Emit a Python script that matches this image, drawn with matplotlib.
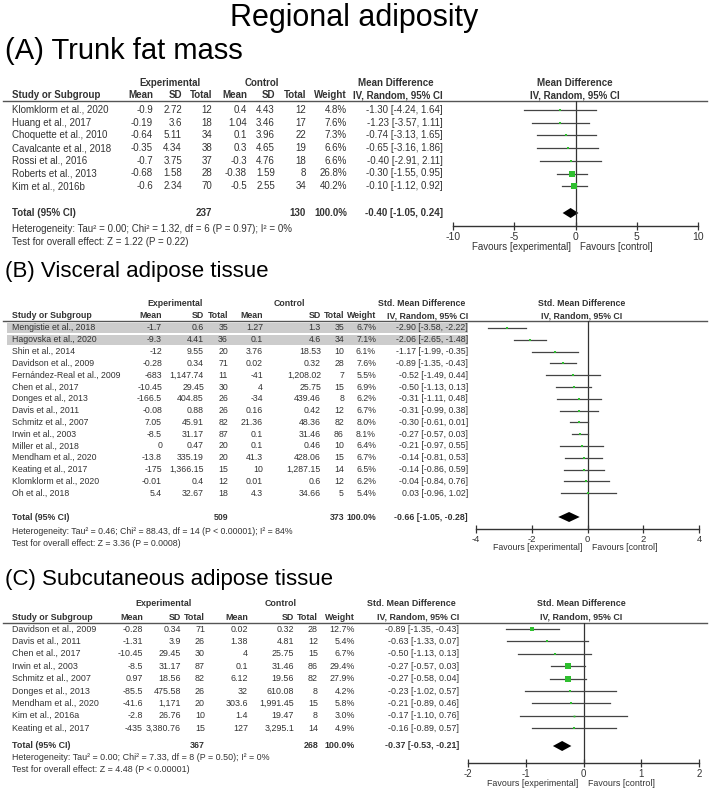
import matplotlib.pyplot as plt
from matplotlib.patches import Rectangle
import numpy as np

plt.rcParams['font.family'] = ['Liberation Sans', 'DejaVu Sans']
plt.rcParams['axes.unicode_minus'] = False

W, H = 709, 790
TXT = '#333333'
GREEN = '#2fbf2f'

## (A) Trunk fat mass ##
studiesA = ["Klomklorm et al., 2020", "Huang et al., 2017", "Choquette et al., 2010",
            "Cavalcante et al., 2018", "Rossi et al., 2016", "Roberts et al., 2013",
            "Kim et al., 2016b"]
expMeanA = [-0.9, -0.19, -0.64, -0.35, -0.7, -0.68, -0.6]
expSDA = [2.72, 3.6, 5.11, 4.34, 3.75, 1.58, 2.34]
expNA = [12, 18, 34, 38, 37, 28, 70]
ctlMeanA = [0.4, 1.04, 0.1, 0.3, -0.3, -0.38, -0.5]
ctlSDA = [4.43, 3.46, 3.96, 4.65, 4.76, 1.59, 2.55]
ctlNA = [12, 17, 22, 19, 18, 8, 34]
weightA = [4.8, 7.6, 7.3, 6.6, 6.6, 26.8, 40.2]
estA = [-1.30, -1.23, -0.74, -0.65, -0.40, -0.30, -0.10]
loA = [-4.24, -3.57, -3.13, -3.16, -2.91, -1.55, -1.12]
hiA = [1.64, 1.11, 1.65, 1.86, 2.11, 0.95, 0.92]
totalNA = [237, 130]
pooledA = [-0.40, -1.05, 0.24]
hetA = "Heterogeneity: Tau\u00b2 = 0.00; Chi\u00b2 = 1.32, df = 6 (P = 0.97); I\u00b2 = 0%"
testA = "Test for overall effect: Z = 1.22 (P = 0.22)"
ticksA = [-10, -5, 0, 5, 10]

## (B) Visceral adipose tissue ##
studiesB = ["Mengistie et al., 2018", "Hagovska et al., 2020", "Shin et al., 2014",
            "Davidson et al., 2009", "Fernández-Real et al., 2009", "Chen et al., 2017",
            "Donges et al., 2013", "Davis et al., 2011", "Schmitz et al., 2007",
            "Irwin et al., 2003", "Miller et al., 2018", "Mendham et al., 2020",
            "Keating et al., 2017", "Klomklorm et al., 2020", "Oh et al., 2018"]
expMeanB = [-1.7, -9.3, -12, -0.28, -683, -10.45, -166.5, -0.08, 7.05, -8.5, 0, -13.8, -175, -0.01, 5.4]
expSDB = [0.6, 4.41, 9.55, 0.34, 1147.74, 29.45, 404.85, 0.88, 45.91, 31.17, 0.47, 335.19, 1366.15, 0.4, 32.67]
expNB = [35, 36, 20, 71, 11, 30, 26, 26, 82, 87, 20, 20, 15, 12, 18]
ctlMeanB = [1.27, 0.1, 3.76, 0.02, -41, 4, -34, 0.16, 21.36, 0.1, 0.1, 41.3, 10, 0.01, 4.3]
ctlSDB = [1.3, 4.6, 18.53, 0.32, 1208.02, 25.75, 439.46, 0.42, 48.36, 31.46, 0.46, 428.06, 1287.15, 0.6, 34.66]
ctlNB = [35, 34, 10, 28, 7, 15, 8, 12, 82, 86, 10, 15, 14, 12, 5]
weightB = [6.7, 7.1, 6.1, 7.6, 5.5, 6.9, 6.2, 6.7, 8.0, 8.1, 6.4, 6.7, 6.5, 6.2, 5.4]
estB = [-2.90, -2.06, -1.17, -0.89, -0.52, -0.50, -0.31, -0.31, -0.30, -0.27, -0.21, -0.14, -0.14, -0.04, 0.03]
loB = [-3.58, -2.65, -1.99, -1.35, -1.49, -1.13, -1.11, -0.99, -0.61, -0.57, -0.97, -0.81, -0.86, -0.84, -0.96]
hiB = [-2.22, -1.48, -0.35, -0.43, 0.44, 0.13, 0.48, 0.38, 0.01, 0.03, 0.55, 0.53, 0.59, 0.76, 1.02]
totalNB = [509, 373]
pooledB = [-0.66, -1.05, -0.28]
hetB = "Heterogeneity: Tau\u00b2 = 0.46; Chi\u00b2 = 88.43, df = 14 (P < 0.00001); I\u00b2 = 84%"
testB = "Test for overall effect: Z = 3.36 (P = 0.0008)"
ticksB = [-4, -2, 0, 2, 4]
shadedB = [0, 1]

## (C) Subcutaneous adipose tissue ##
studiesC = ["Davidson et al., 2009", "Davis et al., 2011", "Chen et al., 2017",
            "Irwin et al., 2003", "Schmitz et al., 2007", "Donges et al., 2013",
            "Mendham et al., 2020", "Kim et al., 2016a", "Keating et al., 2017"]
expMeanC = [-0.28, -1.31, -10.45, -8.5, 0.97, -85.5, -41.6, -2.8, -435]
expSDC = [0.34, 3.9, 29.45, 31.17, 18.56, 475.58, 1171, 26.76, 3380.76]
expNC = [71, 26, 30, 87, 82, 26, 20, 10, 15]
ctlMeanC = [0.02, 1.38, 4, 0.1, 6.12, 32, 303.6, 1.4, 127]
ctlSDC = [0.32, 4.81, 25.75, 31.46, 19.56, 610.08, 1991.45, 19.47, 3295.1]
ctlNC = [28, 12, 15, 86, 82, 8, 15, 8, 14]
weightC = [12.7, 5.4, 6.7, 29.4, 27.9, 4.2, 5.8, 3.0, 4.9]
estC = [-0.89, -0.63, -0.50, -0.27, -0.27, -0.23, -0.21, -0.17, -0.16]
loC = [-1.35, -1.33, -1.13, -0.57, -0.58, -1.02, -0.89, -1.10, -0.89]
hiC = [-0.43, 0.07, 0.13, 0.03, 0.04, 0.57, 0.46, 0.76, 0.57]
totalNC = [367, 268]
pooledC = [-0.37, -0.53, -0.21]
hetC = "Heterogeneity: Tau\u00b2 = 0.00; Chi\u00b2 = 7.33, df = 8 (P = 0.50); I\u00b2 = 0%"
testC = "Test for overall effect: Z = 4.48 (P < 0.00001)"
ticksC = [-2, -1, 0, 1, 2]

# pixel layout of each panel (x: column right edges, y: row centres)
layA = dict(title=51, tfs=21, h1=83, h2=95, line=101, row0=110, step=12.7, tot=213, het=229, test=242,
            axis=226, fav=247, fs=7.0, name=12, cols=[153, 182, 212, 247, 275, 306, 347],
            expc=170, ctlc=262, cir=443, cic=396, px=(453, 698), plotc=575,
            measure="Mean Difference")
layB = dict(title=271, tfs=16, h1=304, h2=316, line=321, row0=328, step=11.8, tot=517, het=532, test=543,
            axis=529, fav=548, fs=6.3, name=12, cols=[162, 204, 228, 263, 321, 344, 376],
            expc=175, ctlc=289, cir=468, cic=422, px=(476, 699), plotc=582,
            measure="Std. Mean Difference")
layC = dict(title=579, tfs=16, h1=603, h2=617, line=623, row0=629, step=12.4, tot=746, het=758, test=769,
            axis=763, fav=783, fs=6.4, name=12, cols=[143, 181, 205, 248, 294, 318, 355],
            expc=164, ctlc=281, cir=459, cic=411, px=(468, 699), plotc=581,
            measure="Std. Mean Difference")

fig = plt.figure(figsize=(W / 100, H / 100), dpi=100)
ov = fig.add_axes([0, 0, 1, 1])
ov.set_xlim(0, W)
ov.set_ylim(H, 0)
ov.axis('off')

ov.text(W / 2, 18, "Regional adiposity", ha='center', va='center', fontsize=22)


def num(v):
    return f"{v:,}"


def ci(e, l, h):
    return f"{e:.2f} [{l:.2f}, {h:.2f}]"


def section(L, title, studies, eM, eS, eN, cM, cS, cN, wt, es, lo, hi, nTot, pooled, het, test, ticks, shade=()):
    fs = L['fs']
    t = dict(va='center', fontsize=fs, color=TXT)
    b = dict(va='center', fontsize=fs, color=TXT, fontweight='bold')
    ov.text(5, L['title'], title, ha='left', va='center', fontsize=L['tfs'])

    # headers
    ov.text(L['expc'], L['h1'], "Experimental", ha='center', **b)
    ov.text(L['ctlc'], L['h1'], "Control", ha='center', **b)
    ov.text(L['cic'], L['h1'], L['measure'], ha='center', **b)
    ov.text(L['plotc'], L['h1'], L['measure'], ha='center', **b)
    ov.text(L['name'], L['h2'], "Study or Subgroup", ha='left', **b)
    for x, s in zip(L['cols'], ["Mean", "SD", "Total", "Mean", "SD", "Total", "Weight"]):
        ov.text(x, L['h2'], s, ha='right', **b)
    ov.text(L['cir'], L['h2'], "IV, Random, 95% CI", ha='right', **b)
    ov.text(L['plotc'], L['h2'], "IV, Random, 95% CI", ha='center', **b)
    ov.plot([3, 707], [L['line'], L['line']], color='#555555', lw=1.0)

    ys = L['row0'] + L['step'] * np.arange(len(studies))
    for i in shade:
        ov.add_patch(Rectangle((7, ys[i] - 5), L['cir'] - 7, 10, color='#cccccc', lw=0, zorder=0))
    for i, y in enumerate(ys):
        ov.text(L['name'], y, studies[i], ha='left', **t)
        for x, v in zip(L['cols'][:6], [eM[i], eS[i], eN[i], cM[i], cS[i], cN[i]]):
            ov.text(x, y, num(v), ha='right', **t)
        ov.text(L['cols'][6], y, f"{wt[i]:.1f}%", ha='right', **t)
        ov.text(L['cir'], y, ci(es[i], lo[i], hi[i]), ha='right', **t)

    ov.text(L['name'], L['tot'], "Total (95% CI)", ha='left', **b)
    ov.text(L['cols'][2], L['tot'], str(nTot[0]), ha='right', **b)
    ov.text(L['cols'][5], L['tot'], str(nTot[1]), ha='right', **b)
    ov.text(L['cols'][6], L['tot'], "100.0%", ha='right', **b)
    ov.text(L['cir'], L['tot'], ci(*pooled), ha='right', **b)
    ov.text(L['name'], L['het'], het, ha='left', **t)
    ov.text(L['name'], L['test'], test, ha='left', **t)

    # forest plot
    x0, x1 = L['px']
    top, bot = L['line'], L['axis']
    ax = fig.add_axes([x0 / W, 1 - bot / H, (x1 - x0) / W, (bot - top) / H])
    ax.set_facecolor('none')
    ax.set_xlim(ticks[0], ticks[-1])
    ax.set_ylim(bot, top)
    for s in ['top', 'left', 'right']:
        ax.spines[s].set_visible(False)
    ax.spines['bottom'].set_color('#333333')
    ax.spines['bottom'].set_linewidth(1.0)
    ax.set_yticks([])
    ax.set_xticks(ticks)
    ax.tick_params(axis='x', direction='inout', length=6, width=0.9, pad=1,
                   labelsize=fs + 0.5, colors='#333333')
    ax.axvline(0, color='#333333', lw=0.9)
    for i, y in enumerate(ys):
        ax.plot([lo[i], hi[i]], [y, y], color='#444444', lw=0.9)
        side = max(np.sqrt(wt[i]), 1.8)
        ax.plot(es[i], y, marker='s', ms=side * 0.72, color=GREEN, mew=0)
    e, l, h = pooled
    ax.fill([l, e, h, e], [L['tot'], L['tot'] - 5, L['tot'], L['tot'] + 5], color='black', lw=0)

    zx = x0 + (0 - ticks[0]) / (ticks[-1] - ticks[0]) * (x1 - x0)
    ov.text(zx - 5, L['fav'], "Favours [experimental]", ha='right', **t)
    ov.text(zx + 5, L['fav'], "Favours [control]", ha='left', **t)


section(layA, "(A) Trunk fat mass", studiesA, expMeanA, expSDA, expNA, ctlMeanA, ctlSDA, ctlNA,
        weightA, estA, loA, hiA, totalNA, pooledA, hetA, testA, ticksA)
section(layB, "(B) Visceral adipose tissue", studiesB, expMeanB, expSDB, expNB, ctlMeanB, ctlSDB, ctlNB,
        weightB, estB, loB, hiB, totalNB, pooledB, hetB, testB, ticksB, shade=shadedB)
section(layC, "(C) Subcutaneous adipose tissue", studiesC, expMeanC, expSDC, expNC, ctlMeanC, ctlSDC, ctlNC,
        weightC, estC, loC, hiC, totalNC, pooledC, hetC, testC, ticksC)

fig.savefig("out.png", dpi=100)
